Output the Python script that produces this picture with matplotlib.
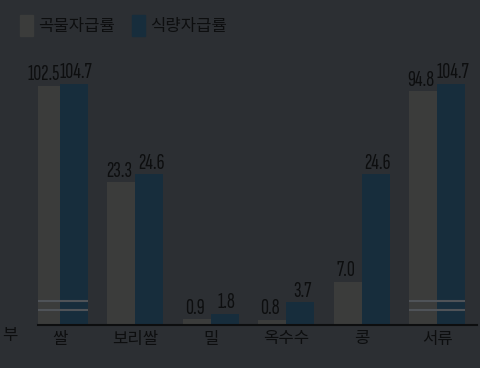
import numpy as np
import matplotlib.pyplot as plt
from matplotlib.patches import Patch

# 자급률 데이터 (%)
categories = ['쌀', '보리쌀', '밀', '옥수수', '콩', '서류']
grain_rate = [102.5, 23.3, 0.9, 0.8, 7.0, 94.8]   # 곡물자급률
food_rate = [104.7, 24.6, 1.8, 3.7, 24.6, 104.7]  # 식량자급률
broken = ['쌀', '서류']  # 축 생략 표시가 있는 품목

bg = '#2c2f33'
c_grain = '#3b3c3b'
c_food = '#172d3c'
c_text = '#0d0e0f'

plt.rcParams['font.family'] = ['Sofia Sans Extra Condensed', 'Noto Sans CJK KR', 'DejaVu Sans']

# 큰 값은 압축해서 표시 (원본 그래프의 생략 축)
BRK, K = 30.0, 0.125


def fwd(v):
    v = np.asarray(v, dtype=float)
    return np.where(v <= BRK, v, BRK + (v - BRK) * K)


def inv(d):
    d = np.asarray(d, dtype=float)
    return np.where(d <= BRK, d, BRK + (d - BRK) / K)


fig = plt.figure(figsize=(4.81, 3.68), dpi=100, facecolor=bg)
ax = fig.add_axes([0.079, 0.118, 0.913, 0.765], facecolor=bg)
ax.set_yscale('function', functions=(fwd, inv))

x = np.arange(len(categories))
w = 0.37
b1 = ax.bar(x - w / 2, grain_rate, w, color=c_grain)
b2 = ax.bar(x + w / 2, food_rate, w, color=c_food)

for bars, vals, dx in ((b1, grain_rate, -1.5), (b2, food_rate, 1.5)):
    for r, v in zip(bars, vals):
        ax.annotate(f'{v:.1f}', (r.get_x() + r.get_width() / 2, v),
                    xytext=(dx, 1), textcoords='offset points',
                    ha='center', va='bottom', fontsize=16, fontweight='medium',
                    color=c_text)

# 생략 표시 선
for i, name in enumerate(categories):
    if name in broken:
        for h in (2.4, 3.8):
            ax.hlines(h, i - w, i + w, color='#4f5358', lw=1.5)

ax.set_xlim(-0.29, 5.53)
ax.set_ylim(0, float(inv(46)))
ax.set_xticks(x)
ax.set_xticklabels(categories, fontsize=12, fontweight='medium', color=c_text)
ax.tick_params(axis='x', length=0, pad=5)
ax.set_yticks([])
for s in ('top', 'right', 'left'):
    ax.spines[s].set_visible(False)
ax.spines['bottom'].set_color(c_text)
ax.spines['bottom'].set_linewidth(1.5)

handles = [Patch(color=c_grain, label='곡물자급률'), Patch(color=c_food, label='식량자급률')]
leg = fig.legend(handles=handles, loc='upper left', bbox_to_anchor=(0.01, 1.0), ncol=2,
                 frameon=False, handlelength=0.8, handleheight=1.6,
                 handletextpad=0.3, columnspacing=1.0,
                 prop={'size': 12, 'weight': 'medium'})
for t in leg.get_texts():
    t.set_color(c_text)

fig.text(0.005, 0.075, '부', fontsize=12, fontweight='medium', color=c_text)

fig.savefig('out.png', dpi=100, facecolor=bg)
